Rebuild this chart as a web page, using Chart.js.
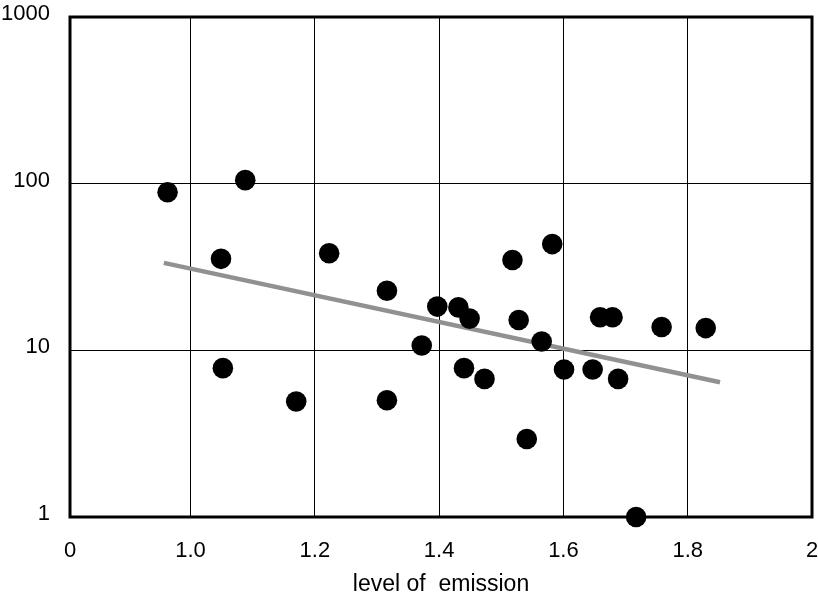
<!DOCTYPE html>
<html>
<head>
<meta charset="utf-8">
<script src="https://cdn.jsdelivr.net/npm/chart.js@4.4.1/dist/chart.umd.min.js"></script>
<style>
  html, body { margin: 0; padding: 0; background: #fff; }
  #wrap { width: 818px; height: 601px; }
</style>
</head>
<body>
<div id="wrap"><canvas id="cv"></canvas></div>
<script>
// ── Data ──────────────────────────────────────────────
const emissionX = [0.963, 1.088, 1.049, 1.052, 1.170, 1.223, 1.316, 1.316, 1.372,
                   1.397, 1.431, 1.449, 1.440, 1.473, 1.518, 1.582, 1.528, 1.565,
                   1.541, 1.601, 1.647, 1.659, 1.679, 1.688, 1.717, 1.758, 1.829];
const valueY    = [88.8, 105, 35.4, 7.82, 4.93, 38.2, 22.8, 5.02, 10.7,
                   18.3, 18.1, 15.5, 7.82, 6.74, 34.8, 43.4, 15.2, 11.3,
                   2.94, 7.68, 7.68, 15.8, 15.8, 6.74, 1.0, 13.8, 13.6];

// trend line end points
const trendX = [0.957, 1.852];
const trendY = [33.5, 6.44];

// axis ticks (left edge is labelled "0")
const xTickValues = [0.806, 1.0, 1.2, 1.4, 1.6, 1.8, 2.0];
const xTickLabels = ['0', '1.0', '1.2', '1.4', '1.6', '1.8', '2'];
const yTickValues = [1, 10, 100, 1000];
const yTickLabels = ['1', '10', '100', '1000'];

const FONT = '"Liberation Sans Narrow", "Arial Narrow", "Liberation Sans", Arial, sans-serif';

// thick frame round the plot area
const frame = {
  id: 'frame',
  afterDatasetsDraw(chart) {
    const { ctx, chartArea: a } = chart;
    ctx.save();
    ctx.strokeStyle = '#000';
    ctx.lineWidth = 3;
    ctx.strokeRect(a.left, a.top, a.right - a.left, a.bottom - a.top);
    ctx.restore();
  },
};

new Chart(document.getElementById('cv'), {
  type: 'scatter',
  data: {
    datasets: [
      {
        label: 'samples',
        data: emissionX.map((x, i) => ({ x, y: valueY[i] })),
        backgroundColor: '#000', borderWidth: 0, pointRadius: 10.3, pointHoverRadius: 10.3,
        clip: false, order: 0,
      },
      {
        label: 'trend', type: 'line',
        data: trendX.map((x, i) => ({ x, y: trendY[i] })),
        borderColor: '#919191', borderWidth: 4.5, pointRadius: 0, fill: false,
        order: 1,
      },
    ],
  },
  options: {
    responsive: true, maintainAspectRatio: false, animation: false,
    layout: { autoPadding: false, padding: { top: 17, right: 6, left: 0, bottom: 0 } },
    plugins: { legend: { display: false }, tooltip: { enabled: false } },
    scales: {
      x: {
        type: 'linear', min: xTickValues[0], max: 2.0,
        afterBuildTicks: s => { s.ticks = xTickValues.map(v => ({ value: v })); },
        afterFit: s => { s.height = 84; s.paddingLeft = 0; s.paddingRight = 0; },
        ticks: {
          color: '#000', padding: 21, maxRotation: 0, autoSkip: false,
          font: { family: FONT, size: 22 },
          callback: (v, i) => xTickLabels[i],
        },
        grid: { color: '#000', lineWidth: 1, drawTicks: false },
        border: { display: false },
        title: {
          display: true, text: 'level of  emission', color: '#000',
          font: { family: FONT, size: 23 }, padding: { top: 0, bottom: 3 },
        },
      },
      y: {
        type: 'logarithmic', min: 1, max: 1000,
        afterBuildTicks: s => { s.ticks = yTickValues.map(v => ({ value: v })); },
        afterFit: s => { s.width = 70; s.paddingTop = 0; s.paddingBottom = 0; },
        ticks: {
          color: '#000', padding: 20, autoSkip: false, labelOffset: -3,
          font: { family: FONT, size: 22 },
          callback: (v, i) => yTickLabels[i],
        },
        grid: { color: '#000', lineWidth: 1, drawTicks: false },
        border: { display: false },
      },
    },
  },
  plugins: [frame],
});
</script>
</body>
</html>
